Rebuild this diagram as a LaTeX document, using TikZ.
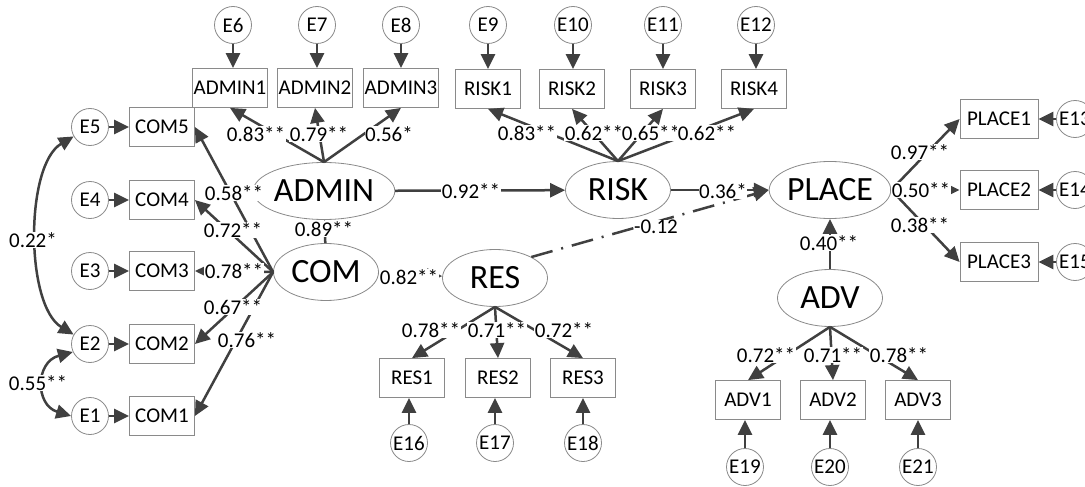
\documentclass[tikz,border=0pt]{standalone}
\usepackage{fontspec}
\setmainfont{Carlito}
\usetikzlibrary{arrows.meta,shapes.geometric}
\definecolor{ln}{HTML}{404040}
\definecolor{bd}{HTML}{8A8A8A}
\begin{document}
\begin{tikzpicture}[x=1pt,y=-1pt, font=\fontsize{21}{23}\selectfont,
  obs/.style={draw=bd, line width=0.8pt, minimum width=65pt, minimum height=39pt, inner sep=0pt},
  wobs/.style={obs, minimum width=75pt},
  pobs/.style={obs, minimum width=78pt},
  err/.style={circle, draw=bd, line width=0.8pt, minimum size=37pt, inner sep=0pt},
  lat/.style={ellipse, draw=bd, line width=0.8pt, minimum width=105pt, minimum height=57pt, inner sep=0pt, font=\fontsize{34}{36}\selectfont},
  conn/.style={draw=ln, line width=2.5pt, -{Triangle[length=15pt,width=14pt]}},
  cov/.style={draw=ln, line width=2.5pt, {Triangle[length=15pt,width=14pt]}-{Triangle[length=15pt,width=14pt]}},
  dashdot/.style={conn, dash pattern=on 22pt off 9pt on 2pt off 9pt},
  lab/.style={fill=white, inner sep=0.5pt, text=black}]
\useasboundingbox (0,0) rectangle (1085,487);
% latent
\node[lat] (ADMIN) at (324,191) {ADMIN};
\node[lat] (COM) at (326,272) {COM};
\node[lat] (RISK) at (618,190) {RISK};
\node[lat] (PLACE) at (830,190) {PLACE};
\node[lat] (RES) at (495,278) {RES};
\node[lat] (ADV) at (830,298) {ADV};
% observed
\node[wobs] (ADMIN1) at (230,88) {ADMIN1};
\node[wobs] (ADMIN2) at (315,88) {ADMIN2};
\node[wobs] (ADMIN3) at (401,88) {ADMIN3};
\node[obs] (RISK1) at (488,89) {RISK1};
\node[obs] (RISK2) at (572,89) {RISK2};
\node[obs] (RISK3) at (663,89) {RISK3};
\node[obs] (RISK4) at (754,89) {RISK4};
\node[obs] (COM5) at (162,127) {COM5};
\node[obs] (COM4) at (162,200) {COM4};
\node[obs] (COM3) at (162,271) {COM3};
\node[obs] (COM2) at (162,344) {COM2};
\node[obs] (COM1) at (162,416) {COM1};
\node[obs] (RES1) at (412,378) {RES1};
\node[obs] (RES2) at (498,378) {RES2};
\node[obs] (RES3) at (583,378) {RES3};
\node[obs] (ADV1) at (748,400) {ADV1};
\node[obs] (ADV2) at (833,400) {ADV2};
\node[obs] (ADV3) at (918,400) {ADV3};
\node[pobs] (PLACE1) at (999,119) {PLACE1};
\node[pobs] (PLACE2) at (999,190) {PLACE2};
\node[pobs] (PLACE3) at (999,262) {PLACE3};
% errors
\node[err] (E6) at (233,25) {E6};
\node[err] (E7) at (317,25) {E7};
\node[err] (E8) at (401,25) {E8};
\node[err] (E9) at (488,25) {E9};
\node[err] (E10) at (573,25) {E10};
\node[err] (E11) at (663,25) {E11};
\node[err] (E12) at (756,25) {E12};
\node[err] (E5) at (90,127) {E5};
\node[err] (E4) at (90,200) {E4};
\node[err] (E3) at (90,271) {E3};
\node[err] (E2) at (90,344) {E2};
\node[err] (E1) at (90,416) {E1};
\node[err] (E16) at (409,443) {E16};
\node[err] (E17) at (495,443) {E17};
\node[err] (E18) at (583,443) {E18};
\node[err] (E19) at (745,467) {E19};
\node[err] (E20) at (830,467) {E20};
\node[err] (E21) at (918,467) {E21};
\node[err] (E13) at (1075,119) {E13};
\node[err] (E14) at (1075,190) {E14};
\node[err] (E15) at (1075,262) {E15};
% error arrows
\foreach \e/\o in {E6/ADMIN1,E7/ADMIN2,E8/ADMIN3,E9/RISK1,E10/RISK2,E11/RISK3,E12/RISK4}
  \draw[conn] (\e) -- (\e |- \o.north);
\foreach \e/\o in {E16/RES1,E17/RES2,E18/RES3,E19/ADV1,E20/ADV2,E21/ADV3}
  \draw[conn] (\e) -- (\e |- \o.south);
\foreach \e/\o in {E1/COM1,E2/COM2,E3/COM3,E4/COM4,E5/COM5}
  \draw[conn] (\e) -- (\o);
\foreach \e/\o in {E13/PLACE1,E14/PLACE2,E15/PLACE3}
  \draw[conn] (\e) -- (\o);
% loadings
\foreach \o in {ADMIN1,ADMIN2,ADMIN3}
  \draw[conn] (ADMIN.north) -- (\o.south);
\foreach \o in {RISK1,RISK2,RISK3,RISK4}
  \draw[conn] (RISK.north) -- (\o.south);
\foreach \o in {COM1,COM2,COM3,COM4,COM5}
  \draw[conn] (COM.west) -- (\o.east);
\foreach \o in {RES1,RES2,RES3}
  \draw[conn] (RES.south) -- (\o.north);
\foreach \o in {ADV1,ADV2,ADV3}
  \draw[conn] (ADV.south) -- (\o.north);
\foreach \o in {PLACE1,PLACE2,PLACE3}
  \draw[conn] (PLACE.east) -- (\o.west);
% structural
\draw[conn] (ADMIN) -- (RISK);
\draw[conn] (RISK) -- (PLACE);
\draw[conn] (ADV) -- (PLACE);
\draw[conn] (COM) -- (RES);
\draw[conn] (COM) -- (ADMIN);
\draw[dashdot] (RES.30) -- (PLACE.west);
% covariances
\draw[cov] (E5.210) .. controls (25,165) and (25,305) .. (E2.150);
\draw[cov] (E2.205) .. controls (35,362) and (35,405) .. (E1.180);
% labels
\node[lab] (la1) at (256,134) {0.83**};
\node[lab] (la2) at (319,134) {0.79**};
\node[lab] (la3) at (389,134) {0.56*};
\node[lab] (lr1) at (527,133) {0.83**};
\node[lab] (lr2) at (594,133) {0.62**};
\node[lab] (lr3) at (651,133) {0.65**};
\node[lab] (lr4) at (707,133) {0.62**};
\node[lab] (lc5) at (234,193) {0.58**};
\node[lab] (lc4) at (233,230) {0.72**};
\node[lab] (lc3) at (234,271) {0.78**};
\node[lab] (lc2) at (233,307) {0.67**};
\node[lab] (lc1) at (247,340) {0.76**};
\node[lab] (lac) at (324,229) {0.89**};
\node[lab] (lar) at (471,191) {0.92**};
\node[lab] (lrp) at (723,191) {0.36*};
\node[lab] (lsp) at (656,227) {-0.12};
\node[lab] (lcr) at (409,277) {0.82**};
\node[lab] (ls1) at (431,330) {0.78**};
\node[lab] (ls2) at (497,330) {0.71**};
\node[lab] (ls3) at (564,330) {0.72**};
\node[lab] (lv1) at (766,355) {0.72**};
\node[lab] (lv2) at (833,355) {0.71**};
\node[lab] (lv3) at (899,355) {0.78**};
\node[lab] (lvp) at (829,243) {0.40**};
\node[lab] (lp1) at (920,152) {0.97**};
\node[lab] (lp2) at (921,190) {0.50**};
\node[lab] (lp3) at (920,225) {0.38**};
\node[lab] (lk1) at (33,240) {0.22*};
\node[lab] (lk2) at (38,383) {0.55**};
\end{tikzpicture}
\end{document}
